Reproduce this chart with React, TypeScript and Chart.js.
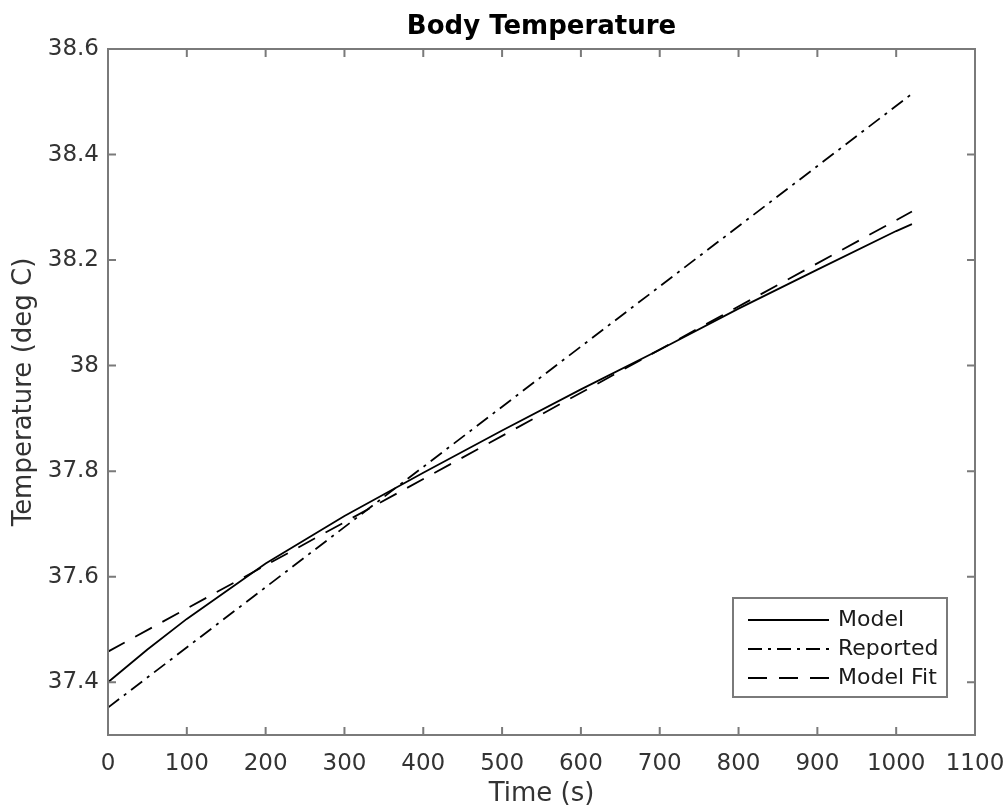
import React, { useEffect, useRef } from "react";
import { Chart, registerables } from "chart.js";

Chart.register(...registerables);

// ---- data ----
const modelX = [0, 50, 100, 200, 300, 400, 500, 600, 700, 800, 900, 1000, 1020];
const modelY = [37.4, 37.462, 37.52, 37.625, 37.715, 37.797, 37.877, 37.955, 38.03, 38.108, 38.182, 38.255, 38.268];
const reportedX = [0, 1020];
const reportedY = [37.352, 38.515];
const fitX = [0, 1020];
const fitY = [37.458, 38.292];

const seriesLabels = ["Model", "Reported", "Model Fit"];
const xTicks = [0, 100, 200, 300, 400, 500, 600, 700, 800, 900, 1000, 1100];
const yTicks = [37.4, 37.6, 37.8, 38, 38.2, 38.4, 38.6];
const yTickLabels = ["37.4", "37.6", "37.8", "38", "38.2", "38.4", "38.6"];
const titleText = "Body Temperature";
const xTitle = "Time (s)";
const yTitle = "Temperature (deg C)";

const AXIS_COLOR = "#7a7a7a";
const TEXT_COLOR = "#333333";
const FONT = "'DejaVu Sans', sans-serif";

const toPoints = (xs: number[], ys: number[]) => xs.map((x, i) => ({ x, y: ys[i] }));

const boxPlugin = {
  id: "matlabBox",
  afterDatasetsDraw(chart: any) {
    const { ctx, chartArea: a, scales } = chart;
    const xs = scales.x;
    const ys = scales.y;
    const tl = 8;
    ctx.save();
    ctx.strokeStyle = AXIS_COLOR;
    ctx.lineWidth = 2;
    ctx.beginPath();
    ctx.rect(a.left, a.top, a.right - a.left, a.bottom - a.top);
    ctx.stroke();
    ctx.beginPath();
    for (const v of xTicks) {
      const px = xs.getPixelForValue(v);
      ctx.moveTo(px, a.bottom);
      ctx.lineTo(px, a.bottom - tl);
      ctx.moveTo(px, a.top);
      ctx.lineTo(px, a.top + tl);
    }
    for (const v of yTicks) {
      const py = ys.getPixelForValue(v);
      ctx.moveTo(a.left, py);
      ctx.lineTo(a.left + tl, py);
      ctx.moveTo(a.right, py);
      ctx.lineTo(a.right - tl, py);
    }
    ctx.stroke();

    // legend (lower right, inside axes)
    const bw = 214;
    const bh = 99;
    const bx = a.right - 28 - bw;
    const by = a.bottom - 38 - bh;
    ctx.fillStyle = "#ffffff";
    ctx.fillRect(bx, by, bw, bh);
    ctx.strokeStyle = AXIS_COLOR;
    ctx.lineWidth = 2;
    ctx.strokeRect(bx, by, bw, bh);
    ctx.font = "22px " + FONT;
    ctx.textBaseline = "middle";
    ctx.textAlign = "left";
    chart.data.datasets.forEach((ds: any, i: number) => {
      const ry = by + 22 + i * 29;
      ctx.save();
      ctx.strokeStyle = "#000";
      ctx.lineWidth = 1.8;
      ctx.setLineDash(ds.borderDash || []);
      ctx.beginPath();
      ctx.moveTo(bx + 15, ry);
      ctx.lineTo(bx + 96, ry);
      ctx.stroke();
      ctx.restore();
      ctx.fillStyle = "#1a1a1a";
      ctx.fillText(ds.label, bx + 105, ry);
    });
    ctx.restore();
  },
};

export default function App() {
  const ref = useRef<HTMLCanvasElement | null>(null);
  useEffect(() => {
    if (!ref.current) return;
    const chart = new Chart(ref.current, {
      type: "line",
      data: {
        datasets: [
          {
            label: seriesLabels[0],
            data: toPoints(modelX, modelY),
            borderColor: "#000",
            borderWidth: 1.8,
            pointRadius: 0,
            tension: 0,
          },
          {
            label: seriesLabels[1],
            data: toPoints(reportedX, reportedY),
            borderColor: "#000",
            borderWidth: 1.8,
            borderDash: [14, 6, 3, 6],
            pointRadius: 0,
          },
          {
            label: seriesLabels[2],
            data: toPoints(fitX, fitY),
            borderColor: "#000",
            borderWidth: 1.8,
            borderDash: [19, 12],
            pointRadius: 0,
          },
        ],
      },
      options: {
        animation: false,
        responsive: false,
        events: [],
        layout: { padding: { left: 0, right: 32, top: 0, bottom: 0 } },
        plugins: {
          legend: { display: false },
          tooltip: { enabled: false },
          title: {
            display: true,
            fullSize: false,
            text: titleText,
            color: "#000",
            font: { family: FONT, size: 26, weight: "bold", lineHeight: 1.2 },
            padding: { top: 12, bottom: 5.8 },
          },
        },
        scales: {
          x: {
            type: "linear",
            min: 0,
            max: 1100,
            grid: { display: false, drawTicks: false },
            border: { display: false },
            afterBuildTicks: (s: any) => {
              s.ticks = xTicks.map((v) => ({ value: v }));
            },
            afterFit: (s: any) => {
              s.height = 75;
              s.paddingLeft = 0;
              s.paddingRight = 0;
            },
            ticks: {
              color: TEXT_COLOR,
              font: { family: FONT, size: 23 },
              padding: 15,
              maxRotation: 0,
              autoSkip: false,
              callback: (v: any) => String(v),
            },
            title: {
              display: true,
              text: xTitle,
              color: TEXT_COLOR,
              font: { family: FONT, size: 26, lineHeight: 1.2 },
              padding: { top: 0, bottom: 0 },
            },
          },
          y: {
            type: "linear",
            min: 37.3,
            max: 38.6,
            grid: { display: false, drawTicks: false },
            border: { display: false },
            afterBuildTicks: (s: any) => {
              s.ticks = yTicks.map((v) => ({ value: v }));
            },
            afterFit: (s: any) => {
              s.width = 108;
              s.paddingTop = 0;
              s.paddingBottom = 0;
            },
            ticks: {
              color: TEXT_COLOR,
              font: { family: FONT, size: 23 },
              padding: 9,
              autoSkip: false,
              callback: (v: any) => {
                const k = yTicks.findIndex((t) => Math.abs(t - Number(v)) < 1e-6);
                return k >= 0 ? yTickLabels[k] : "";
              },
            },
            title: {
              display: true,
              text: yTitle,
              color: TEXT_COLOR,
              font: { family: FONT, size: 26, lineHeight: 1.2 },
              padding: { top: 9, bottom: 0 },
            },
          },
        },
      },
      plugins: [boxPlugin],
    } as any);
    return () => chart.destroy();
  }, []);

  return (
    <div style={{ position: "absolute", left: 0, top: 0, width: 1007, height: 810, background: "#fff" }}>
      <canvas ref={ref} width={1007} height={810} style={{ display: "block" }} />
    </div>
  );
}
